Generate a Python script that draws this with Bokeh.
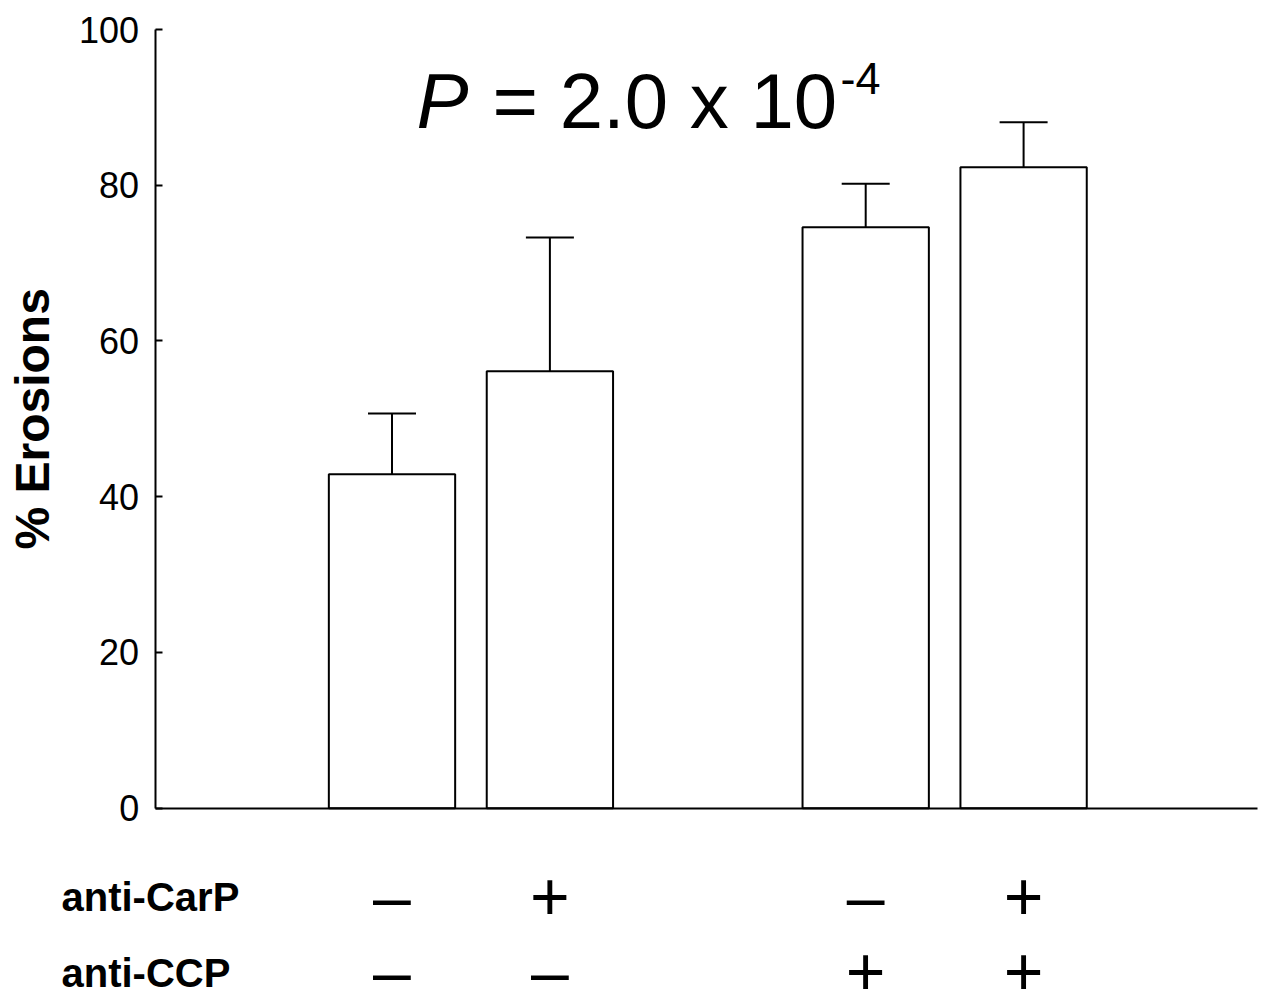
import math
from bokeh.plotting import figure
from bokeh.models import (Range1d, FixedTicker, Whisker, TeeHead, ColumnDataSource,
                          LabelSet)
from bokeh.core.properties import value
from bokeh.embed import file_html
from bokeh.resources import INLINE

# ---------------- data ----------------
positions = [1, 2, 4, 5]
erosions = [42.9, 56.1, 74.6, 82.3]      # % erosions (bar heights)
errors = [7.8, 17.2, 5.6, 5.8]           # upper error (SD)
anti_carp = ["\u2013", "+", "\u2013", "+"]
anti_ccp = ["\u2013", "\u2013", "+", "+"]
row_names = ["anti-CarP", "anti-CCP"]
y_ticks = [0, 20, 40, 60, 80, 100]
y_label = "% Erosions"
p_text_italic = "P"
p_text_main = "= 2.0 x 10"
p_text_exp = "-4"

# ---------------- layout ----------------
W, H = 1264, 990
PX_X = 157.9          # pixels per x unit
PX_Y = 7.787          # pixels per y unit
X_PIX_1 = 391.5       # pixel of x = 1
Y_PIX_0 = 807.7       # pixel of y = 0

def dx(px):  # pixel x -> data x
    return 1 + (px - X_PIX_1) / PX_X

def dy(py):  # pixel y -> data y
    return (Y_PIX_0 - py) / PX_Y

FONT = "Liberation Sans"

p = figure(width=W, height=H, output_backend="svg", toolbar_location=None,
           x_range=Range1d(dx(0), dx(W)), y_range=Range1d(dy(H), dy(0)),
           min_border=0)
p.outline_line_color = None
p.xgrid.visible = False
p.ygrid.visible = False
p.background_fill_color = "white"
p.border_fill_color = "white"

# y axis
ax = p.yaxis[0]
ax.fixed_location = -0.5
ax.ticker = FixedTicker(ticks=y_ticks)
ax.bounds = (0, 100)
ax.axis_line_width = 2
ax.axis_line_color = "black"
ax.major_tick_line_width = 2
ax.major_tick_line_color = "black"
ax.major_tick_in = 7
ax.major_tick_out = 0
ax.minor_tick_line_color = None
ax.major_label_text_font = FONT
ax.major_label_text_font_size = "36px"
ax.major_label_text_color = "black"
ax.major_label_standoff = 16

# x axis: plain line at y = 0
xa = p.xaxis[0]
xa.fixed_location = 0
xa.bounds = (-0.5, 6.48)
xa.ticker = FixedTicker(ticks=[])
xa.axis_line_width = 2
xa.axis_line_color = "black"
xa.major_tick_line_color = None
xa.minor_tick_line_color = None
xa.major_label_text_font_size = "0px"

src = ColumnDataSource(dict(x=positions, top=erosions,
                            upper=[m + e for m, e in zip(erosions, errors)],
                            carp=anti_carp, ccp=anti_ccp,
                            y1=[dy(919)] * len(positions),
                            y2=[dy(994)] * len(positions)))

# error bars (upper only)
p.add_layout(Whisker(source=src, base="x", lower="top", upper="upper",
                     line_color="black", line_width=2, lower_head=None,
                     upper_head=TeeHead(size=48, line_width=2, line_color="black"),
                     level="underlay"))

p.vbar(x="x", top="top", bottom=0, width=0.8, source=src,
       fill_color="white", line_color="black", line_width=2)


def add_text(xs, ys, texts, size, style="normal", align="left", angle=0.0, source=None):
    if source is None:
        source = ColumnDataSource(dict(x=xs, y=ys, t=texts))
        xs, ys, texts = "x", "y", "t"
    p.add_layout(LabelSet(x=xs, y=ys, text=texts, source=source, angle=angle,
                          text_font=value(FONT), text_font_size=value(size),
                          text_font_style=value(style), text_align=value(align),
                          text_baseline=value("alphabetic"),
                          text_color=value("black")))


# y axis title (rotated, centred on the 0-100 axis)
add_text([dx(49)], [50], [y_label], "48px", style="bold", align="center",
         angle=math.pi / 2)

# title P = 2.0 x 10^-4
add_text([dx(416)], [dy(127)], [p_text_italic], "78px", style="italic")
add_text([dx(492)], [dy(127)], [p_text_main], "78px")
add_text([dx(840)], [dy(93)], [p_text_exp], "45px")

# row names
add_text([dx(61), dx(61)], [dy(910), dy(986)], row_names, "40px", style="bold")

# +/- signs
add_text("x", "y1", "carp", "68px", align="center", source=src)
add_text("x", "y2", "ccp", "68px", align="center", source=src)

open("out.html", "w").write(file_html(p, INLINE))
